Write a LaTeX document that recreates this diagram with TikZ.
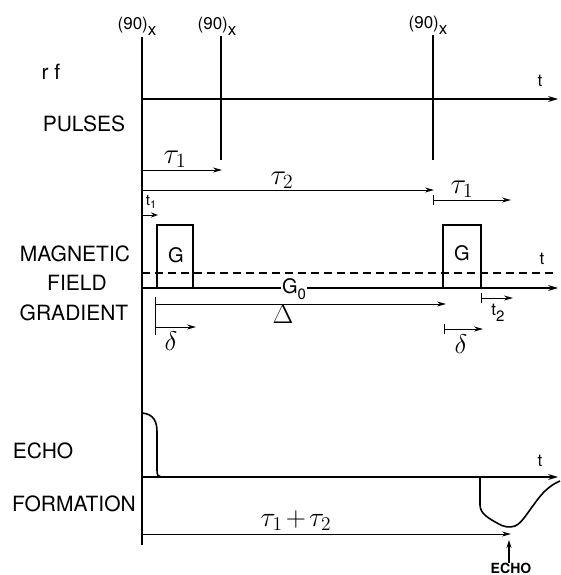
\documentclass[tikz,border=0pt]{standalone}
\usepackage{fontspec}
\setmainfont{TeX Gyre Heros}
\usetikzlibrary{arrows.meta}
\newcommand{\mth}[2][1.4]{\scalebox{#1}{$#2$}}
\begin{document}
\begin{tikzpicture}[x=1pt,y=-1pt,
  lbl/.style={font=\fontsize{21}{21}\selectfont, inner sep=0pt},
  pl/.style={font=\fontsize{17}{17}\selectfont, inner sep=0pt},
  gr/.style={font=\fontsize{20}{20}\selectfont, inner sep=0pt},
  sm/.style={font=\fontsize{17}{17}\selectfont, inner sep=0pt},
  axis/.style={line width=1.1pt, -{Stealth[length=10pt,width=6pt]}},
  arr/.style={line width=1pt, -{Stealth[length=9pt,width=5pt]}},
  barr/.style={line width=1pt, {Bar[width=10pt]}-{Stealth[length=9pt,width=5pt]}},
  pulse/.style={line width=1.8pt},
  gbox/.style={line width=1.6pt},
]
\useasboundingbox[fill=white] (0,0) rectangle (560,575);

% --- coordinates
\coordinate (otop) at (142,37);
\coordinate (obot) at (142,545);
\coordinate (p2top) at (221,36);
\coordinate (p2bot) at (221,160);
\coordinate (p3top) at (433,35);
\coordinate (p3bot) at (433,160);
\coordinate (rfa) at (142,99);
\coordinate (rfb) at (558,99);

% --- pulses
\draw[pulse] (otop) -- (obot);
\draw[pulse] (p2top) -- (p2bot);
\draw[pulse] (p3top) -- (p3bot);
\draw[axis] (rfa) -- (rfb);

\node[pl] (n1) at (137,26) {(90)\raisebox{-6pt}{x}};
\node[pl] (n2) at (217,26) {(90)\raisebox{-6pt}{x}};
\node[pl] (n3) at (428,25) {(90)\raisebox{-6pt}{x}};
\node[sm] (trf) at (540,81) {t};

\node[lbl] (rf) at (51,72) {r f};
\node[lbl] (pul) at (84,124) {PULSES};

% tau arrows
\coordinate (ta1s) at (142,170);
\coordinate (ta1e) at (222,170);
\draw[arr] (ta1s) -- (ta1e);
\node[gr] (tau1) at (175,159) {\mth{\tau_1}};
\coordinate (ta2s) at (142,190);
\coordinate (ta2e) at (434,190);
\draw[arr] (ta2s) -- (ta2e);
\node[gr] (tau2) at (282,180) {\mth{\tau_2}};
\coordinate (ta3s) at (433,200);
\coordinate (ta3e) at (511,200);
\draw[barr] (ta3s) -- (ta3e);
\node[gr] (tau3) at (462,189) {\mth{\tau_1}};

% t1
\coordinate (t1s) at (143,215);
\coordinate (t1e) at (158,215);
\draw[line width=1pt, -{Stealth[length=7pt,width=5pt]}] (t1s) -- (t1e);
\node[sm] (t1) at (151,202) {\fontsize{15}{15}\selectfont t\raisebox{-3pt}{\fontsize{11}{11}\selectfont 1}};

% --- gradient
\node[lbl] (mag) at (75,254) {MAGNETIC};
\node[lbl] (fie) at (77,283) {FIELD};
\node[lbl] (gra) at (74,313) {GRADIENT};

\coordinate (da) at (142,273);
\coordinate (db) at (555,273);
\draw[line width=1.3pt, dash pattern=on 8pt off 5pt] (da) -- (db);

\coordinate (ga) at (142,288);
\coordinate (gb) at (558,288);
\draw[axis] (ga) -- (gb);
\node[sm] (tg) at (542,259) {t};

\draw[gbox] (157,288) -- (157,225) -- (193,225) -- (193,288);
\node[gr] (G1) at (176,255) {G};
\draw[gbox] (443,288) -- (443,225) -- (481,225) -- (481,288);
\node[gr] (G2) at (462,253) {G};

\node[gr, fill=white, inner sep=1.5pt] (G0) at (294,289) {G\raisebox{-6pt}{\fontsize{15}{15}\selectfont 0}};

% Delta, delta
\coordinate (dtop) at (155,297);
\coordinate (dbot) at (155,335);
\draw[line width=1pt] (dtop) -- (dbot);
\coordinate (Ds) at (155,304);
\coordinate (De) at (446,304);
\draw[arr] (Ds) -- (De);
\node[gr] (Dl) at (283,314) {\mth[1.3]{\Delta}};
\coordinate (d1s) at (155,327);
\coordinate (d1e) at (196,327);
\draw[arr] (d1s) -- (d1e);
\node[gr] (d1l) at (171,341) {\mth[1.3]{\delta}};
\coordinate (d2s) at (444,329);
\coordinate (d2e) at (483,329);
\draw[barr] (d2s) -- (d2e);
\node[gr] (d2l) at (461,344) {\mth[1.3]{\delta}};
\coordinate (t2s) at (481,298);
\coordinate (t2e) at (513,298);
\draw[barr] (t2s) -- (t2e);
\node[sm] (t2l) at (498,313) {t\raisebox{-6pt}{\fontsize{15}{15}\selectfont 2}};

% --- echo
\node[lbl] (ech) at (43,451) {ECHO};
\node[lbl] (frm) at (74,504) {FORMATION};

\coordinate (ea) at (142,477);
\coordinate (eb) at (558,477);
\draw[axis] (ea) -- (eb);
\node[sm] (te) at (540,461) {t};

\draw[line width=1.6pt] (142,413) .. controls (154,414) and (157,422) .. (157,432)
  -- (157,470) .. controls (157,475) and (158,477) .. (161,477);
\draw[line width=1.6pt] (480,477) -- (480,505) .. controls (480,514) and (490,519) .. (497,523)
  .. controls (503,527) and (510,528) .. (515,526)
  .. controls (522,523) and (528,512) .. (535,503)
  .. controls (542,493) and (550,485) .. (560,481);

\coordinate (tts) at (142,534);
\coordinate (tte) at (511,534);
\draw[arr] (tts) -- (tte);
\node[gr] (ttl) at (296,521) {\mth[1.35]{\tau_1\mskip2mu{+}\mskip2mu\tau_2}};

\node[font=\fontsize{14}{14}\selectfont\bfseries, inner sep=0pt] (echo) at (511,568) {ECHO};
\coordinate (eat) at (509,540);
\draw[line width=1.2pt, -{Stealth[length=8pt,width=5pt]}] (echo.north -| eat) -- (eat);
\end{tikzpicture}
\end{document}
